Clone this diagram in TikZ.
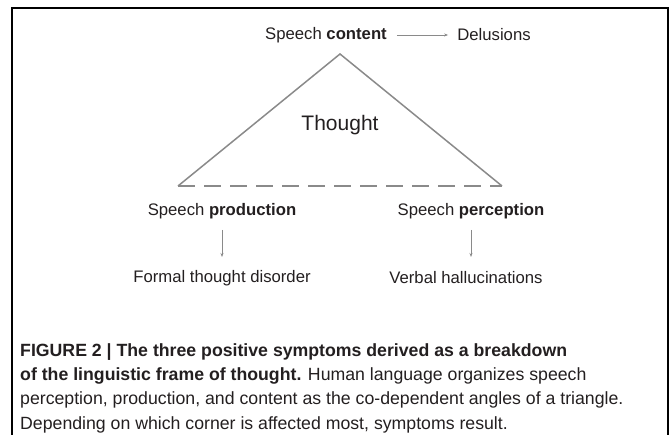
\documentclass[tikz,border=0pt]{standalone}
\usepackage{fontspec}
\setmainfont{Liberation Sans}
\usetikzlibrary{arrows.meta}
\definecolor{ink}{HTML}{231F20}
\definecolor{edge}{HTML}{8A8A8A}
\definecolor{framecolor}{HTML}{000000}

\begin{document}
\begin{tikzpicture}[
    x=1pt, y=-1pt,
    every node/.style={font=\fontsize{16.7}{19}\selectfont, text=ink, inner sep=0pt},
    bigtext/.style={font=\fontsize{21}{25}\selectfont},
    captext/.style={font=\fontsize{17.7}{24.4}\selectfont, align=left},
    sideedge/.style={edge, line width=1.5pt},
    baseedge/.style={edge, line width=1.5pt, dash pattern=on 17pt off 9pt},
    link/.style={edge, line width=0.8pt, -{Stealth[length=4pt, width=3pt]}},
]
\useasboundingbox (0,0) rectangle (671,435);

% frame, open at the bottom
\draw[framecolor, line width=2.5pt] (12,435) -- (12,8) -- (668,8) -- (668,435);

% the triangle of thought
\coordinate (top) at (340,54);
\coordinate (left) at (178,186);
\coordinate (right) at (502,186);
\draw[sideedge, line join=miter] (left) -- (top) -- (right);
\draw[baseedge] (left) -- (right);
\node[bigtext] (thought) at (340,125) {Thought};

% the three corners and their symptoms
\node (content) at (326,35) {Speech \textbf{content}};
\node (delusions) at (494,35) {Delusions};
\node (production) at (222,211) {Speech \textbf{production}};
\node (perception) at (471,211) {Speech \textbf{perception}};
\node (ftd) at (222,278) {Formal thought disorder};
\node (vh) at (466,278) {Verbal hallucinations};

\draw[link] ([xshift=10pt]content.east) -- ([xshift=-9pt]delusions.west);
\foreach \a/\b in {production/ftd, perception/vh}{
    \draw[link] (\a.south |- 0,230) -- (\a.south |- 0,257);
}

% caption
\node[captext, anchor=north west] (caption) at (20,343)
    {\textbf{FIGURE 2 | The three positive symptoms derived as a breakdown}\\
     \textbf{of the linguistic frame of thought.} Human language organizes speech\\
     perception, production, and content as the co-dependent angles of a triangle.\\
     Depending on which corner is affected most, symptoms result.};
\end{tikzpicture}
\end{document}
